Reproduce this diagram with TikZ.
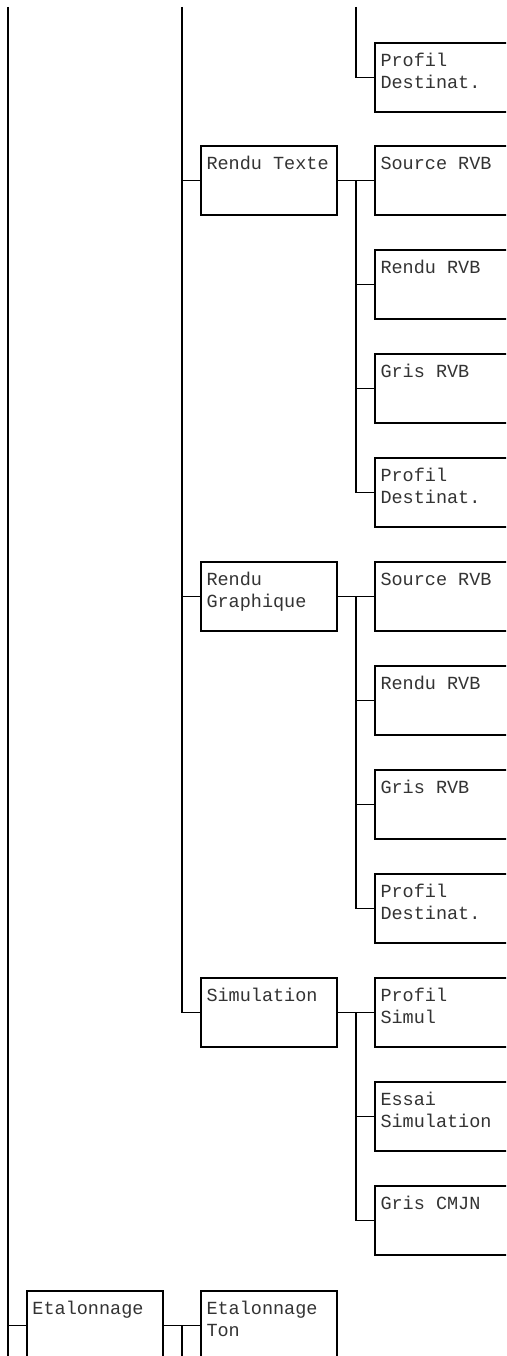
\documentclass[tikz,border=0pt]{standalone}
\usepackage{fontspec}
\newfontfamily\menumono{Liberation Mono}
\usetikzlibrary{calc}
\newcommand\mtext[1]{\parbox[t][69pt][t]{136pt}{\fontsize{18.5}{21.7}\selectfont\leftskip=5.5pt\vspace*{8.6pt}\strut#1\par}}
\tikzset{
  menubox/.style={draw, line width=1.8pt, inner sep=0pt, outer sep=0pt, anchor=north west, text=black!80, font=\menumono},
  link/.style={line width=1.8pt}
}
\begin{document}
\begin{tikzpicture}[x=1pt,y=-1pt]
\useasboundingbox (0,0) rectangle (506,1356);
\clip (0,0) rectangle (506,1356);
% trunk ends
\coordinate (t1) at (8,7);
\coordinate (t2) at (182,7);
\coordinate (t3) at (356,7);
\coordinate (b1) at (8,1358);
% top group tail
\node[menubox] (pd0) at (375,43) {\mtext{Profil\\Destinat.}};
% Rendu Texte group
\node[menubox] (rt) at (201,146) {\mtext{Rendu Texte}};
\node[menubox] (s1) at (375,146) {\mtext{Source RVB}};
\node[menubox] (r1) at (375,250) {\mtext{Rendu RVB}};
\node[menubox] (g1) at (375,354) {\mtext{Gris RVB}};
\node[menubox] (pd1) at (375,458) {\mtext{Profil\\Destinat.}};
% Rendu Graphique group
\node[menubox] (rg) at (201,562) {\mtext{Rendu\\Graphique}};
\node[menubox] (s2) at (375,562) {\mtext{Source RVB}};
\node[menubox] (r2) at (375,666) {\mtext{Rendu RVB}};
\node[menubox] (g2) at (375,770) {\mtext{Gris RVB}};
\node[menubox] (pd2) at (375,874) {\mtext{Profil\\Destinat.}};
% Simulation group
\node[menubox] (sim) at (201,978) {\mtext{Simulation}};
\node[menubox] (ps) at (375,978) {\mtext{Profil\\Simul}};
\node[menubox] (es) at (375,1082) {\mtext{Essai\\Simulation}};
\node[menubox] (gc) at (375,1186) {\mtext{Gris CMJN}};
% Etalonnage group
\node[menubox] (eta) at (27,1291) {\mtext{Etalonnage}};
\node[menubox] (et) at (201,1291) {\mtext{Etalonnage\\Ton}};
% connectors
\draw[link] (t1) -- (b1);
\draw[link] (eta.west -| t1) -- (eta.west);
\draw[link] (t2) |- (sim.west);
\draw[link] (rt.west -| t2) -- (rt.west);
\draw[link] (rg.west -| t2) -- (rg.west);
\draw[link] (t3) |- (pd0.west);
% Rendu Texte
\draw[link] (rt.east) -- (s1.west);
\coordinate (j1) at ($(rt.east)!0.5!(s1.west)$);
\draw[link] (j1) |- (pd1.west);
\draw[link] (j1 |- r1.west) -- (r1.west);
\draw[link] (j1 |- g1.west) -- (g1.west);
% Rendu Graphique
\draw[link] (rg.east) -- (s2.west);
\coordinate (j2) at ($(rg.east)!0.5!(s2.west)$);
\draw[link] (j2) |- (pd2.west);
\draw[link] (j2 |- r2.west) -- (r2.west);
\draw[link] (j2 |- g2.west) -- (g2.west);
% Simulation
\draw[link] (sim.east) -- (ps.west);
\coordinate (j3) at ($(sim.east)!0.5!(ps.west)$);
\draw[link] (j3) |- (gc.west);
\draw[link] (j3 |- es.west) -- (es.west);
% Etalonnage
\draw[link] (eta.east) -- (et.west);
\coordinate (j4) at ($(eta.east)!0.5!(et.west)$);
\draw[link] (j4) -- (j4 |- b1);
\end{tikzpicture}
\end{document}
